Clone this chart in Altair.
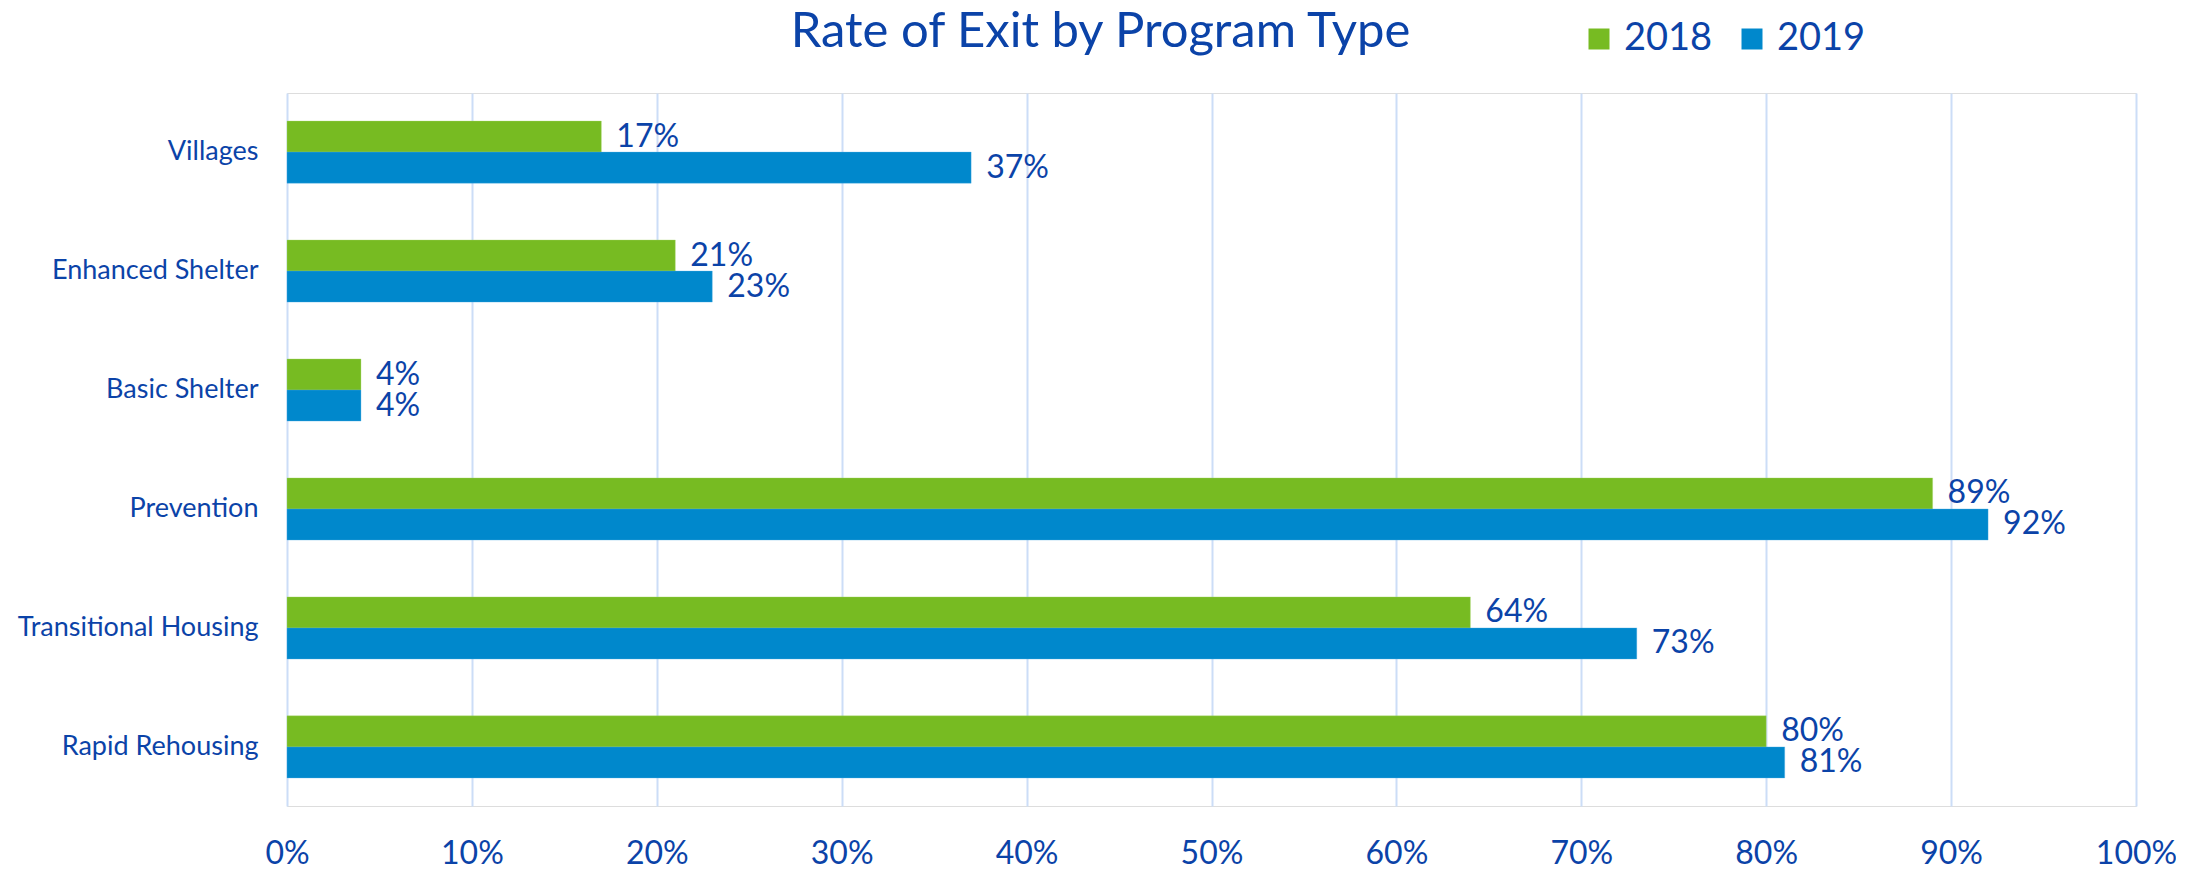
import altair as alt
import pandas as pd

categories = ["Villages", "Enhanced Shelter", "Basic Shelter", "Prevention",
              "Transitional Housing", "Rapid Rehousing"]
years = ["2018", "2019"]
rate_2018 = [0.17, 0.21, 0.04, 0.89, 0.64, 0.80]
rate_2019 = [0.37, 0.23, 0.04, 0.92, 0.73, 0.81]
colors = ["#77BB22", "#0088CC"]
x_ticks = [0, 0.1, 0.2, 0.3, 0.4, 0.5, 0.6, 0.7, 0.8, 0.9, 1.0]

rows = []
for c, a, b in zip(categories, rate_2018, rate_2019):
    rows.append({"Program": c, "Year": "2018", "Rate": a})
    rows.append({"Program": c, "Year": "2019", "Rate": b})
df = pd.DataFrame(rows)

TEXT = "#0B43A8"
FONT = "Lato"

y_enc = alt.Y("Program:N", sort=categories, title=None,
              scale=alt.Scale(paddingInner=0.478, paddingOuter=0.236),
              axis=alt.Axis(labelFontSize=27, labelColor=TEXT, labelFont=FONT,
                            ticks=False, domain=False, labelPadding=29,
                            grid=False, labelLimit=400))
x_enc = alt.X("Rate:Q", title=None,
              scale=alt.Scale(domain=[0, 1], nice=False),
              axis=alt.Axis(values=x_ticks, format=".0%", labelFontSize=32,
                            labelColor=TEXT, labelFont=FONT, ticks=False,
                            domain=False, grid=True, gridColor="#CCDDF7",
                            gridWidth=2, labelPadding=32, labelFlush=False,
                            labelOverlap=False))
yoff = alt.YOffset("Year:N", sort=years, scale=alt.Scale(paddingInner=0, paddingOuter=0))

bars = alt.Chart(df).mark_bar(strokeWidth=1, strokeOpacity=0.35).encode(
    y=y_enc, x=x_enc, yOffset=yoff,
    color=alt.Color("Year:N", sort=years,
                    scale=alt.Scale(domain=years, range=colors),
                    legend=alt.Legend(orient="none", legendX=1293, legendY=-73,
                                      direction="horizontal", title=None,
                                      symbolType="square", symbolSize=441,
                                      symbolStrokeWidth=0, labelFontSize=38,
                                      labelFont=FONT, labelColor=TEXT,
                                      labelOffset=6, columnPadding=20,
                                      padding=0)),
    stroke=alt.Color("Year:N", scale=alt.Scale(domain=years, range=["#A6D66A", "#4FB0E6"]),
                     legend=None),
)

labels = alt.Chart(df).mark_text(align="left", baseline="middle", dx=15,
                                 fontSize=32, font=FONT, color=TEXT).encode(
    y=alt.Y("Program:N", sort=categories), x="Rate:Q", yOffset=yoff,
    text=alt.Text("Rate:Q", format=".0%"),
)

chart = alt.layer(bars, labels).properties(
    width=1849, height=713,
    autosize=alt.AutoSizeParams(type="none"),
    padding={"left": 279, "top": 85, "right": 40, "bottom": 70},
    title=alt.TitleParams("Rate of Exit by Program Type", fontSize=49, font=FONT,
                          fontWeight="normal", color=TEXT, anchor="middle",
                          dx=-111, offset=-37),
).configure_view(stroke=None).configure(background="white")

chart.save("out.html", embed_options={"renderer": "svg", "actions": False})
